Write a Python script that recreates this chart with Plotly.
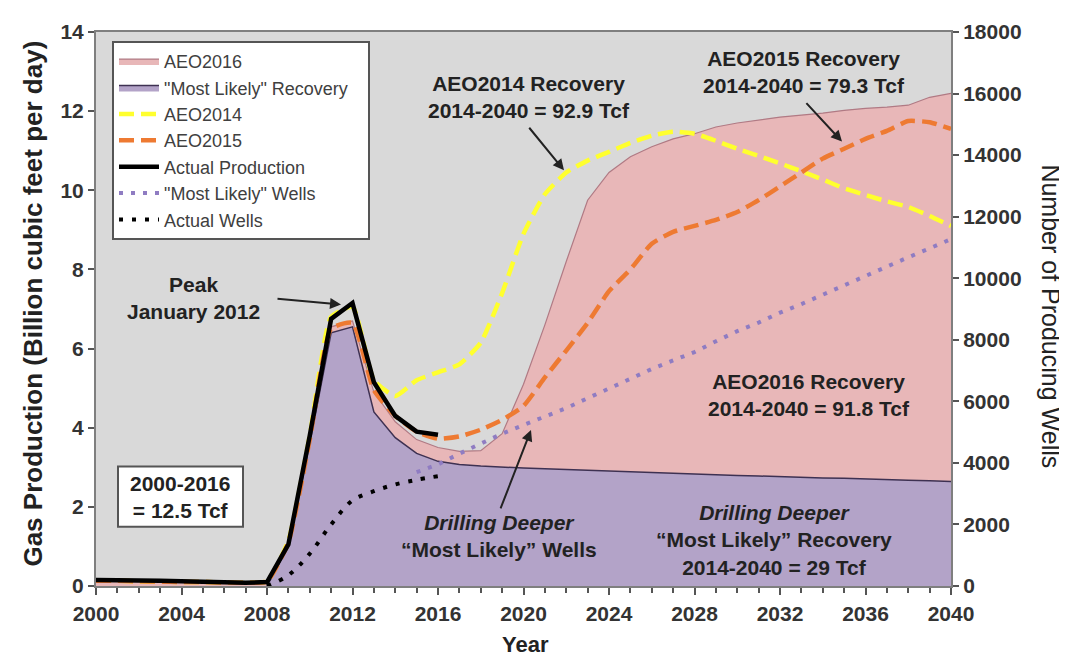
import plotly.graph_objects as go

# ---------------- data ----------------
years = list(range(2000, 2041))

aeo2016 = [0.13, 0.13, 0.12, 0.11, 0.10, 0.10, 0.09, 0.08, 0.12, 1.10,
           3.70, 6.55, 6.70, 4.90, 4.15, 3.70, 3.50, 3.40, 3.42, 3.85,
           5.10, 6.60, 8.20, 9.75, 10.45, 10.85, 11.10, 11.30, 11.43, 11.60,
           11.70, 11.78, 11.85, 11.90, 11.95, 12.02, 12.07, 12.10, 12.15, 12.35,
           12.45]

ml_years = list(range(2008, 2041))
most_likely = [0.00, 1.00, 3.60, 6.40, 6.55, 4.40, 3.75, 3.35, 3.15, 3.07,
               3.03, 3.00, 2.98, 2.96, 2.94, 2.92, 2.90, 2.88, 2.86, 2.84,
               2.82, 2.80, 2.79, 2.78, 2.76, 2.75, 2.73, 2.72, 2.70, 2.69,
               2.67, 2.66, 2.64]

aeo2014 = [0.13, 0.13, 0.12, 0.11, 0.10, 0.10, 0.09, 0.08, 0.12, 1.15,
           3.80, 6.80, 7.05, 5.20, 4.80, 5.20, 5.40, 5.60, 6.15, 7.40,
           8.90, 9.90, 10.45, 10.75, 10.97, 11.20, 11.38, 11.48, 11.43, 11.25,
           11.05, 10.87, 10.68, 10.48, 10.27, 10.05, 9.88, 9.72, 9.58, 9.35,
           9.10]

aeo2015 = [0.13, 0.13, 0.12, 0.11, 0.10, 0.10, 0.09, 0.08, 0.12, 1.10,
           3.70, 6.50, 6.65, 4.95, 4.30, 3.90, 3.72, 3.78, 3.95, 4.20,
           4.55, 5.27, 5.95, 6.65, 7.45, 8.00, 8.65, 8.95, 9.10, 9.25,
           9.45, 9.75, 10.10, 10.45, 10.80, 11.05, 11.30, 11.50, 11.75, 11.72,
           11.55]

act_years = list(range(2000, 2017))
actual_prod = [0.15, 0.15, 0.14, 0.13, 0.12, 0.11, 0.10, 0.08, 0.10, 1.05,
               3.80, 6.75, 7.15, 5.15, 4.30, 3.90, 3.82]

mlw_years = list(range(2015, 2041))
ml_wells = [3700, 3950, 4300, 4620, 4950, 5230, 5500, 5780, 6100, 6420,
            6750, 7050, 7330, 7600, 7950, 8280, 8560, 8880, 9160, 9470,
            9780, 10080, 10380, 10680, 10970, 11270]

aw_years = list(range(2008, 2017))
actual_wells = [0, 350, 1050, 2000, 2780, 3080, 3300, 3450, 3570]

x_ticks = list(range(2000, 2041, 4))
y_ticks = list(range(0, 15, 2))
y2_ticks = list(range(0, 18001, 2000))

# ---------------- layout helpers ----------------
W, H = 1067, 657
L, R, T, B = 88, 943, 17, 578


def P(px, py):
    return (px - L) / (R - L), (B - py) / (B - T)


FONT = "Liberation Sans, Arial, sans-serif"
TXT = "#222222"

fig = go.Figure()

fig.add_trace(go.Scatter(
    x=years, y=aeo2016, name="AEO2016", mode="lines",
    fill="tozeroy", fillcolor="#e8b7b8",
    line=dict(color="#b07a84", width=1.2)))

fig.add_trace(go.Scatter(
    x=ml_years, y=most_likely, name='"Most Likely" Recovery&nbsp;&nbsp;&nbsp;', mode="lines",
    fill="tozeroy", fillcolor="#b3a3c8",
    line=dict(color="#3e3152", width=1.5)))

fig.add_trace(go.Scatter(
    x=years, y=aeo2014, name="AEO2014", mode="lines",
    line=dict(color="#ffff2e", width=4.5, dash="15px,7px", shape="spline", smoothing=0.5)))

fig.add_trace(go.Scatter(
    x=years, y=aeo2015, name="AEO2015", mode="lines",
    line=dict(color="#ee7a32", width=4.5, dash="15px,7px", shape="spline", smoothing=0.5)))

fig.add_trace(go.Scatter(
    x=act_years, y=actual_prod, name="Actual Production", mode="lines",
    line=dict(color="#000000", width=4.5)))

fig.add_trace(go.Scatter(
    x=mlw_years, y=ml_wells, name='"Most Likely" Wells', mode="lines",
    yaxis="y2",
    line=dict(color="#8f7cc2", width=4, dash="4px,8px")))

fig.add_trace(go.Scatter(
    x=aw_years, y=actual_wells, name="Actual Wells", mode="lines",
    yaxis="y2", line_shape="spline",
    line=dict(color="#000000", width=4, dash="4px,9px")))

tickfont = dict(family=FONT, size=21, color="#333333", weight="bold")

lx, ly = P(104, 26)
fig.update_layout(
    width=W, height=H, autosize=False,
    margin=dict(l=L, r=W - R, t=T, b=H - B),
    paper_bgcolor="white", plot_bgcolor="#d9d9d9",
    font=dict(family=FONT, color=TXT),
    showlegend=True,
    legend=dict(
        x=lx, y=ly, xanchor="left", yanchor="top",
        bgcolor="white", bordercolor="#555555", borderwidth=2,
        font=dict(family=FONT, size=18, color="#404040"),
        itemwidth=40, tracegroupgap=5, traceorder="normal"),
    xaxis=dict(
        range=[2000, 2040], tickvals=x_ticks, tickformat="d",
        ticks="outside", ticklen=7, tickwidth=2, tickcolor="#555555",
        minor=dict(dtick=1, ticks="outside", ticklen=5, tickwidth=1.5, tickcolor="#555555"),
        showline=True, linecolor="#7f7f7f", linewidth=2, mirror=True,
        showgrid=False, zeroline=False, tickfont=tickfont, ticklabelstandoff=1),
    yaxis=dict(
        range=[0, 14], tickvals=y_ticks, ticks="outside", ticklen=6,
        tickwidth=2, tickcolor="#555555",
        showline=True, linecolor="#7f7f7f", linewidth=2, mirror=True,
        showgrid=False, zeroline=False, tickfont=tickfont),
    yaxis2=dict(
        range=[0, 18000], tickvals=y2_ticks, tickformat="d", overlaying="y",
        side="right", ticks="outside", ticklen=6, tickwidth=2,
        tickcolor="#555555", showline=True, linecolor="#7f7f7f", linewidth=2,
        showgrid=False, zeroline=False, tickfont=tickfont),
)

# ---------------- annotations ----------------
ann = []


def text(px, py, s, size=21, angle=0, weight="bold", yanchor="middle"):
    x, y = P(px, py)
    ann.append(dict(x=x, y=y, xref="paper", yref="paper", text=s, showarrow=False,
                    xanchor="center", yanchor=yanchor, textangle=angle,
                    font=dict(family=FONT, size=size, color=TXT, weight=weight)))


def arrow(hx, hy, tx, ty):
    x, y = P(hx, hy)
    ann.append(dict(x=x, y=y, xref="paper", yref="paper", text="", showarrow=True,
                    ax=tx - hx, ay=ty - hy, arrowhead=2, arrowsize=1.1,
                    arrowwidth=2, arrowcolor="#222222"))


text(521, 83, "AEO2014 Recovery<br>2014-2040 = 92.9 Tcf")
text(796, 58, "AEO2015 Recovery<br>2014-2040 = 79.3 Tcf")
text(185, 286, "Peak<br>January 2012")
text(801, 385, "AEO2016 Recovery<br>2014-2040 = 91.8 Tcf")
text(766, 531, "<i>Drilling Deeper</i><br>\u201cMost Likely\u201d Recovery<br>2014-2040 = 29 Tcf")
text(491, 527, "<i>Drilling Deeper</i><br>\u201cMost Likely\u201d Wells")
text(172, 488, "2000-2016<br>= 12.5 Tcf")

arrow(333, 293, 268, 287)
arrow(556, 157, 520, 113)
arrow(834, 128, 797, 88)
arrow(523, 420, 492, 500)

# axis titles
text(25, 292, "Gas Production (Billion cubic feet per day)", size=26, angle=-90)
text(1043, 305, "Number of Producing Wells", size=25, angle=90, weight="normal")
text(517, 652, "Year", size=22, yanchor="bottom")

fig.update_layout(annotations=ann)

# box around cumulative production text
x0, y0 = P(110, 518)
x1, y1 = P(235, 457)
fig.add_shape(type="rect", xref="paper", yref="paper", x0=x0, y0=y0, x1=x1, y1=y1,
              fillcolor="white", line=dict(color="#555555", width=2), layer="above")

fig.write_html("out.html")
